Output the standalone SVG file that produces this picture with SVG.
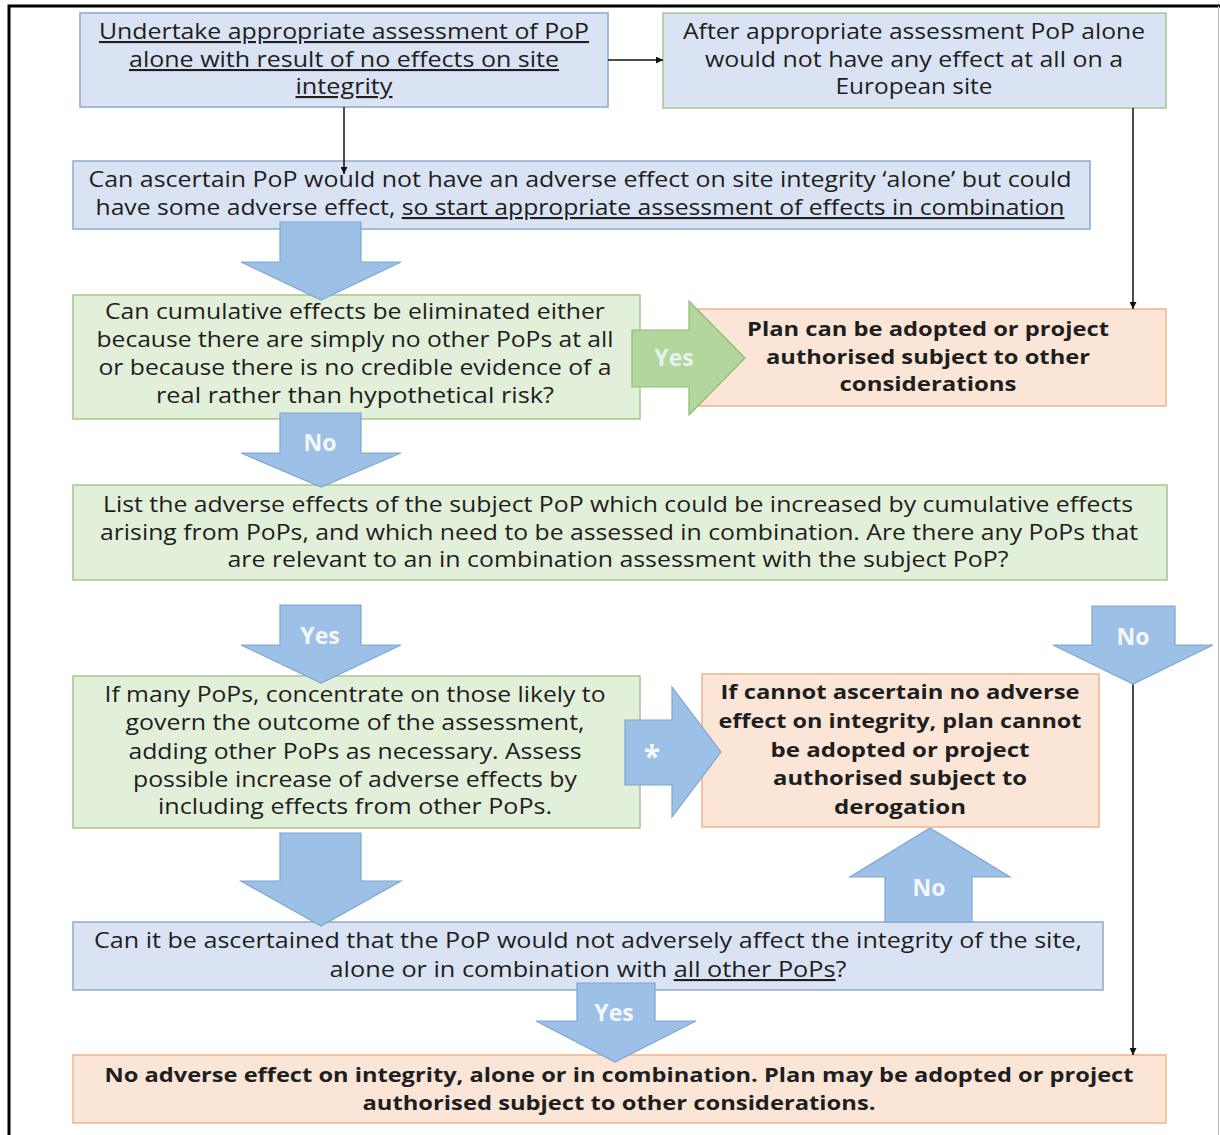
<svg xmlns="http://www.w3.org/2000/svg" width="1220" height="1135" viewBox="0 0 1220 1135">
<style>
  .t { font-family: "Open Sans", "Liberation Sans", sans-serif; font-size: 21px; fill: #1e1e1e; text-anchor: middle; }
  .b { font-family: "Open Sans", "Liberation Sans", sans-serif; font-size: 20px; font-weight: bold; fill: #1e1e1e; text-anchor: middle; }
  .lbl { font-family: "Open Sans", "Liberation Sans", sans-serif; font-size: 23px; font-weight: bold; fill: #f4f7fc; text-anchor: middle; }
  .u { text-decoration: underline; }
  .blue { fill: #dae3f3; stroke: #8ea9cf; stroke-width: 1.5; }
  .bluegreen { fill: #dae3f3; stroke: #a8c690; stroke-width: 1.5; }
  .green { fill: #e2efd9; stroke: #a8c690; stroke-width: 1.5; }
  .orange { fill: #fbe5d6; stroke: #f0b48a; stroke-width: 1.5; }
  .barrow { fill: #9dc0e7; stroke: #7fa6d4; stroke-width: 1.2; }
  .garrow { fill: #b2d69c; stroke: #8cbc72; stroke-width: 1.2; }
  .line { fill: none; stroke: #111; stroke-width: 1.5; }
</style>
<defs>
  <marker id="ah" viewBox="0 0 10 10" refX="10" refY="5" markerWidth="7" markerHeight="7" orient="auto" markerUnits="userSpaceOnUse">
    <path d="M0,0 L10,5 L0,10 Z" fill="#111"/>
  </marker>
</defs>
<rect x="0" y="0" width="1220" height="1135" fill="#ffffff"/>
<path d="M9,1135 V6 H1220" fill="none" stroke="#000" stroke-width="3"/>
<line x1="1218.5" y1="6" x2="1218.5" y2="1135" stroke="#bbbbbb" stroke-width="1"/>

<g id="n1">
  <rect class="blue" x="80" y="13" width="528" height="94"/>
  <text class="t u" x="344" y="39" textLength="490" lengthAdjust="spacingAndGlyphs">Undertake appropriate assessment of PoP</text>
  <text class="t u" x="344" y="67" textLength="430" lengthAdjust="spacingAndGlyphs">alone with result of no effects on site</text>
  <text class="t u" x="344" y="94" textLength="97" lengthAdjust="spacingAndGlyphs">integrity</text>
</g>
<g id="n2">
  <rect class="bluegreen" x="663" y="13" width="503" height="95"/>
  <text class="t" x="914" y="39" textLength="462" lengthAdjust="spacingAndGlyphs">After appropriate assessment PoP alone</text>
  <text class="t" x="914" y="67" textLength="418" lengthAdjust="spacingAndGlyphs">would not have any effect at all on a</text>
  <text class="t" x="914" y="94" textLength="157" lengthAdjust="spacingAndGlyphs">European site</text>
</g>
<g id="n3">
  <rect class="blue" x="73" y="161" width="1017" height="68"/>
  <text class="t" x="580" y="187" textLength="983" lengthAdjust="spacingAndGlyphs">Can ascertain PoP would not have an adverse effect on site integrity ‘alone’ but could</text>
  <text class="t" x="580" y="215" textLength="969" lengthAdjust="spacingAndGlyphs">have some adverse effect, <tspan class="u">so start appropriate assessment of effects in combination</tspan></text>
</g>
<g id="n4">
  <rect class="green" x="73" y="295" width="567" height="124"/>
  <text class="t" x="355" y="319" textLength="500" lengthAdjust="spacingAndGlyphs">Can cumulative effects be eliminated either</text>
  <text class="t" x="355" y="347" textLength="517" lengthAdjust="spacingAndGlyphs">because there are simply no other PoPs at all</text>
  <text class="t" x="355" y="375" textLength="513" lengthAdjust="spacingAndGlyphs">or because there is no credible evidence of a</text>
  <text class="t" x="355" y="403" textLength="398" lengthAdjust="spacingAndGlyphs">real rather than hypothetical risk?</text>
</g>
<g id="n5">
  <rect class="orange" x="699" y="309" width="467" height="97"/>
  <text class="b" x="928" y="336" textLength="362" lengthAdjust="spacingAndGlyphs">Plan can be adopted or project</text>
  <text class="b" x="928" y="364" textLength="324" lengthAdjust="spacingAndGlyphs">authorised subject to other</text>
  <text class="b" x="928" y="391" textLength="177" lengthAdjust="spacingAndGlyphs">considerations</text>
</g>
<g id="n6">
  <rect class="green" x="73" y="485" width="1094" height="95"/>
  <text class="t" x="618" y="512" textLength="1030" lengthAdjust="spacingAndGlyphs">List the adverse effects of the subject PoP which could be increased by cumulative effects</text>
  <text class="t" x="619" y="540" textLength="1038" lengthAdjust="spacingAndGlyphs">arising from PoPs, and which need to be assessed in combination. Are there any PoPs that</text>
  <text class="t" x="618" y="567" textLength="781" lengthAdjust="spacingAndGlyphs">are relevant to an in combination assessment with the subject PoP?</text>
</g>
<g id="n7">
  <rect class="green" x="73" y="676" width="567" height="152"/>
  <text class="t" x="355" y="702" textLength="501" lengthAdjust="spacingAndGlyphs">If many PoPs, concentrate on those likely to</text>
  <text class="t" x="355" y="730" textLength="459" lengthAdjust="spacingAndGlyphs">govern the outcome of the assessment,</text>
  <text class="t" x="355" y="759" textLength="453" lengthAdjust="spacingAndGlyphs">adding other PoPs as necessary. Assess</text>
  <text class="t" x="355" y="787" textLength="444" lengthAdjust="spacingAndGlyphs">possible increase of adverse effects by</text>
  <text class="t" x="355" y="814" textLength="394" lengthAdjust="spacingAndGlyphs">including effects from other PoPs.</text>
</g>
<g id="n8">
  <rect class="orange" x="702" y="674" width="397" height="153"/>
  <text class="b" x="900" y="699" textLength="359" lengthAdjust="spacingAndGlyphs">If cannot ascertain no adverse</text>
  <text class="b" x="900" y="728" textLength="363" lengthAdjust="spacingAndGlyphs">effect on integrity, plan cannot</text>
  <text class="b" x="900" y="757" textLength="259" lengthAdjust="spacingAndGlyphs">be adopted or project</text>
  <text class="b" x="900" y="785" textLength="254" lengthAdjust="spacingAndGlyphs">authorised subject to</text>
  <text class="b" x="900" y="814" textLength="132" lengthAdjust="spacingAndGlyphs">derogation</text>
</g>
<g id="n9">
  <rect class="blue" x="73" y="922" width="1030" height="68"/>
  <text class="t" x="588" y="948" textLength="988" lengthAdjust="spacingAndGlyphs">Can it be ascertained that the PoP would not adversely affect the integrity of the site,</text>
  <text class="t" x="588" y="977" textLength="517" lengthAdjust="spacingAndGlyphs">alone or in combination with <tspan class="u">all other PoPs</tspan>?</text>
</g>
<g id="n10">
  <rect class="orange" x="73" y="1055" width="1093" height="68"/>
  <text class="b" x="619" y="1082" textLength="1029" lengthAdjust="spacingAndGlyphs">No adverse effect on integrity, alone or in combination. Plan may be adopted or project</text>
  <text class="b" x="619" y="1110" textLength="513" lengthAdjust="spacingAndGlyphs">authorised subject to other considerations.</text>
</g>

<g id="connectors">
  <line class="line" x1="608" y1="60" x2="663" y2="60" marker-end="url(#ah)"/>
  <line class="line" x1="344" y1="107" x2="344" y2="174" marker-end="url(#ah)"/>
  <line class="line" x1="1133" y1="108" x2="1133" y2="309" marker-end="url(#ah)"/>
  <line class="line" x1="1133" y1="684" x2="1133" y2="1055" marker-end="url(#ah)"/>

  <path class="barrow" d="M280,222 H361 V262 H401 L321,300 L241,262 H280 Z"/>
  <path class="garrow" d="M632,330 H689 V301 L745,358 L689,415 V387 H632 Z"/>
  <text class="lbl" x="674" y="366" fill-opacity="0.85">Yes</text>
  <path class="barrow" d="M280,413 H361 V453 H401 L321,487 L241,453 H280 Z"/>
  <text class="lbl" x="320" y="451">No</text>
  <path class="barrow" d="M280,605 H361 V645 H401 L321,683 L241,645 H280 Z"/>
  <text class="lbl" x="320" y="644">Yes</text>
  <path class="barrow" d="M1092,606 H1175 V645 H1213 L1133,684 L1053,645 H1092 Z"/>
  <text class="lbl" x="1133" y="645">No</text>
  <path class="barrow" d="M625,720 H672 V687 L721,752 L672,817 V785 H625 Z"/>
  <text class="lbl" x="652" y="767" style="font-size:30px">*</text>
  <path class="barrow" d="M280,833 H361 V881 H401 L321,926 L241,881 H280 Z"/>
  <path class="barrow" d="M885,922 V877 H850 L930,828 L1010,877 H972 V922 Z"/>
  <text class="lbl" x="929" y="896">No</text>
  <path class="barrow" d="M577,983 H655 V1021 H696 L615,1062 L536,1021 H577 Z"/>
  <text class="lbl" x="614" y="1021">Yes</text>
</g>
</svg>
